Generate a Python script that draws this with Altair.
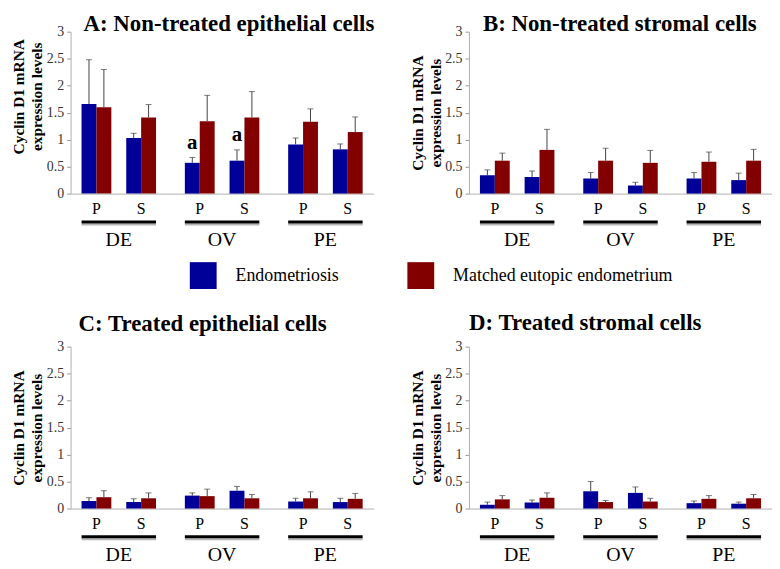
import altair as alt
import pandas as pd

# ---------------- data ----------------
groups = ["DE", "OV", "PE"]
cat_group = ["DE", "DE", "OV", "OV", "PE", "PE"]
cat_type = ["P", "S", "P", "S", "P", "S"]
series = ["Endometriosis", "Matched eutopic endometrium"]
colors = ["#000099", "#820000"]

# A: Non-treated epithelial cells
A_endo = [1.66, 1.03, 0.57, 0.61, 0.91, 0.82]
A_endo_sd = [0.82, 0.09, 0.10, 0.20, 0.12, 0.10]
A_match = [1.60, 1.41, 1.34, 1.41, 1.33, 1.14]
A_match_sd = [0.70, 0.24, 0.48, 0.48, 0.24, 0.28]

# B: Non-treated stromal cells
B_endo = [0.34, 0.31, 0.28, 0.15, 0.28, 0.25]
B_endo_sd = [0.10, 0.11, 0.11, 0.06, 0.11, 0.13]
B_match = [0.61, 0.81, 0.61, 0.57, 0.59, 0.61]
B_match_sd = [0.14, 0.38, 0.23, 0.23, 0.18, 0.21]

# C: Treated epithelial cells
C_endo = [0.14, 0.12, 0.24, 0.33, 0.13, 0.12]
C_endo_sd = [0.06, 0.06, 0.05, 0.08, 0.06, 0.07]
C_match = [0.21, 0.19, 0.23, 0.19, 0.19, 0.18]
C_match_sd = [0.12, 0.10, 0.13, 0.07, 0.12, 0.10]

# D: Treated stromal cells
D_endo = [0.07, 0.11, 0.32, 0.29, 0.10, 0.09]
D_endo_sd = [0.05, 0.05, 0.18, 0.11, 0.04, 0.03]
D_match = [0.17, 0.20, 0.12, 0.13, 0.18, 0.19]
D_match_sd = [0.07, 0.09, 0.03, 0.06, 0.06, 0.07]

# significance marks (panel A)
ann_group = ["OV", "OV"]
ann_slot = ["P1", "S1"]
ann_text = ["a", "a"]

slot_domain = ["P1", "P2", "gap", "S1", "S2"]
y_ticks = [0, 0.5, 1, 1.5, 2, 2.5, 3]

FONT = "Liberation Serif"
W, H = 305, 163


def make_df(endo, endo_sd, match, match_sd):
    rows = []
    for i in range(6):
        for k, (v, sd) in enumerate([(endo[i], endo_sd[i]), (match[i], match_sd[i])]):
            rows.append(dict(group=cat_group[i], type=cat_type[i],
                             slot=cat_type[i] + str(k + 1), series=series[k],
                             value=v, top=v + sd))
    return pd.DataFrame(rows)


def panel(title, endo, endo_sd, match, match_sd, title_dx, title_offset,
          title_y=None, legend=False, annotate=False):
    df = make_df(endo, endo_sd, match, match_sd)
    xscale = alt.Scale(domain=groups, paddingInner=0.279, paddingOuter=0.106)
    xaxis = alt.Axis(title=None, labelAngle=0, ticks=False, tickSize=0,
                     labelPadding=36, labelFont=FONT, labelFontSize=20,
                     labelColor="black", domainColor="#b0b0b0", grid=False)
    xenc = alt.X("group:N", scale=xscale, axis=xaxis)
    xoff = alt.XOffset("slot:N", scale=alt.Scale(domain=slot_domain,
                                                  paddingInner=0, paddingOuter=0))
    yscale = alt.Scale(domain=[0, 3], nice=False)
    ykw = dict(title=["Cyclin D1 mRNA", "expression levels"], values=y_ticks,
               format="~g", grid=False, labelFont=FONT, labelFontSize=14,
               labelColor="#333333", tickColor="#999999", tickSize=4,
               domainColor="#b0b0b0", labelPadding=3, titleFont=FONT,
               titleFontSize=15.5, titleFontWeight="bold", titleColor="black",
               titleLineHeight=18, titleAngle=270, titleBaseline="bottom",
               titleX=-44)
    if title_y is not None:
        ykw["titleY"] = title_y
    yaxis = alt.Axis(**ykw)

    if legend:
        leg = alt.Legend(title=None, orient="none", legendX=120, legendY=232,
                         direction="horizontal", symbolType="square",
                         symbolSize=729, symbolStrokeWidth=0, labelFont=FONT,
                         labelFontSize=18, labelColor="black", labelOffset=19,
                         columnPadding=69, labelLimit=0)
    else:
        leg = None

    bars = alt.Chart(df).mark_bar().encode(
        x=xenc, xOffset=xoff,
        y=alt.Y("value:Q", scale=yscale, axis=yaxis),
        color=alt.Color("series:N", scale=alt.Scale(domain=series, range=colors),
                        legend=leg),
    )
    errs = alt.Chart(df).mark_rule(color="#444444", strokeWidth=1).encode(
        x=xenc, xOffset=xoff,
        y=alt.Y("value:Q", scale=yscale, axis=yaxis), y2="top:Q",
    )
    caps = alt.Chart(df).mark_tick(color="#444444", thickness=1, size=6,
                                   orient="horizontal").encode(
        x=xenc, xOffset=xoff,
        y=alt.Y("top:Q", scale=yscale, axis=yaxis),
    )
    lab_df = pd.DataFrame({"group": cat_group, "type": cat_type,
                           "slot": [t + "2" for t in cat_type]})
    labs = alt.Chart(lab_df).mark_text(font=FONT, fontSize=16, color="black",
                                       baseline="middle", dx=-7.5).encode(
        x=xenc, xOffset=xoff, y=alt.value(H + 16), text="type:N",
    )
    line_df = pd.DataFrame({"group": groups})
    shadow = alt.Chart(line_df).mark_bar(color="#b5b5b5").encode(
        x=xenc, y=alt.value(H + 30), y2=alt.value(H + 32),
    )
    lines = alt.Chart(line_df).mark_bar(color="black").encode(
        x=xenc, y=alt.value(H + 27), y2=alt.value(H + 30),
    )
    layers = [bars, errs, caps, labs, shadow, lines]
    if annotate:
        ann_df = make_df(endo, endo_sd, match, match_sd)
        keys = list(zip(ann_group, ann_slot))
        ann_df = ann_df[ann_df.apply(
            lambda r: (r["group"], r["slot"]) in keys, axis=1)].copy()
        ann_df["label"] = ann_text
        layers.append(alt.Chart(ann_df).mark_text(
            font=FONT, fontSize=21, fontWeight="bold", color="black",
            baseline="alphabetic", dy=-9).encode(
            x=xenc, xOffset=xoff,
            y=alt.Y("top:Q", scale=yscale, axis=yaxis), text="label:N"))
    return alt.layer(*layers).properties(
        width=W, height=H,
        title=alt.TitleParams(title, anchor="start", dx=title_dx, offset=title_offset,
                              font=FONT, fontSize=23, fontWeight="bold",
                              color="black", frame="group"),
    )


pA = panel("A: Non-treated epithelial cells", A_endo, A_endo_sd, A_match, A_match_sd,
           13, -11, title_y=65, legend=True, annotate=True)
pB = panel("B: Non-treated stromal cells", B_endo, B_endo_sd, B_match, B_match_sd,
           14, -11)
pC = panel("C: Treated epithelial cells", C_endo, C_endo_sd, C_match, C_match_sd,
           8, 4)
pD = panel("D: Treated stromal cells", D_endo, D_endo_sd, D_match, D_match_sd,
           0, 5)

row1 = alt.hconcat(pA, pB, spacing=96, bounds="flush")
row2 = alt.hconcat(pC, pD, spacing=96, bounds="flush")
chart = alt.vconcat(row1, row2, spacing=154 + H, bounds="flush").properties(
    padding={"left": 4, "top": 3, "right": 0, "bottom": 0}
).configure_view(stroke=None)

chart.save("out.html", embed_options={"renderer": "svg", "actions": False})
